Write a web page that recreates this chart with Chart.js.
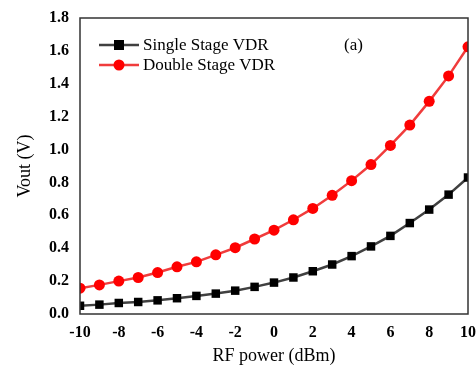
<!DOCTYPE html>
<html>
<head>
<meta charset="utf-8">
<script src="https://cdn.jsdelivr.net/npm/chart.js@4.4.0/dist/chart.umd.min.js"></script>
<style>
  html, body { margin: 0; padding: 0; background: #fff; overflow: hidden; }
  #wrap { width: 476px; height: 369px; }
</style>
</head>
<body>
<div id="wrap"><canvas id="grafico" width="476" height="369"></canvas></div>
<script>
// RF power sweep (dBm) and output voltage of each rectifier (V)
const potencia = [-10, -9, -8, -7, -6, -5, -4, -3, -2, -1, 0, 1, 2, 3, 4, 5, 6, 7, 8, 9, 10];
const simple = [0.050, 0.057, 0.067, 0.073, 0.083, 0.096, 0.110, 0.124, 0.142, 0.165, 0.191,
                0.222, 0.260, 0.301, 0.352, 0.411, 0.475, 0.553, 0.635, 0.726, 0.830];
const doble = [0.157, 0.177, 0.200, 0.222, 0.252, 0.287, 0.317, 0.360, 0.403, 0.456, 0.510,
               0.573, 0.642, 0.722, 0.811, 0.909, 1.025, 1.149, 1.293, 1.448, 1.625];
const etiquetas = ['Single Stage VDR', 'Double Stage VDR'];
const ticksY = [0, 0.2, 0.4, 0.6, 0.8, 1.0, 1.2, 1.4, 1.6, 1.8];

const serif = '"Liberation Serif", "Times New Roman", serif';

const puntos = (valores) => potencia.map((p, i) => ({ x: p, y: valores[i] }));

// caja alrededor del area, leyenda interior y la etiqueta (a)
const extras = {
  id: 'extras',
  afterDraw(chart) {
    const { ctx, chartArea: a } = chart;
    ctx.save();
    ctx.strokeStyle = '#333';
    ctx.lineWidth = 1.5;
    ctx.strokeRect(a.left, a.top, a.right - a.left, a.bottom - a.top);

    ctx.font = '17px ' + serif;
    ctx.textBaseline = 'middle';
    chart.data.datasets.forEach((ds, i) => {
      const y = a.top + 27 + i * 20;
      const x0 = a.left + 19;
      ctx.strokeStyle = ds.borderColor;
      ctx.lineWidth = 2.5;
      ctx.beginPath();
      ctx.moveTo(x0, y);
      ctx.lineTo(x0 + 40, y);
      ctx.stroke();
      ctx.fillStyle = ds.pointBackgroundColor;
      if (ds.pointStyle === 'rect') {
        ctx.fillRect(x0 + 15, y - 5, 10, 10);
      } else {
        ctx.beginPath();
        ctx.arc(x0 + 20, y, 5.5, 0, Math.PI * 2);
        ctx.fill();
      }
      ctx.fillStyle = '#000';
      ctx.textAlign = 'left';
      ctx.fillText(ds.label, x0 + 44, y + 1);
    });
    ctx.fillText('(a)', a.left + 264, a.top + 28);
    ctx.restore();
  }
};

new Chart(document.getElementById('grafico'), {
  type: 'line',
  data: {
    datasets: [
      {
        label: etiquetas[0],
        data: puntos(simple),
        borderColor: '#404040',
        borderWidth: 2.5,
        pointStyle: 'rect',
        pointRadius: 6,
        pointBackgroundColor: '#000',
        pointBorderColor: '#000',
        pointBorderWidth: 0
      },
      {
        label: etiquetas[1],
        data: puntos(doble),
        borderColor: '#f03c3c',
        borderWidth: 2.5,
        pointStyle: 'circle',
        pointRadius: 5.5,
        pointBackgroundColor: '#ff0000',
        pointBorderColor: '#ff0000',
        pointBorderWidth: 0
      }
    ]
  },
  options: {
    responsive: false,
    animation: false,
    layout: { padding: { top: 18, right: 8, left: 0, bottom: 0 } },
    plugins: {
      legend: { display: false },
      tooltip: { enabled: false }
    },
    scales: {
      x: {
        type: 'linear',
        min: -10,
        max: 10,
        grid: { display: false, drawTicks: false },
        border: { display: false },
        ticks: {
          stepSize: 2,
          padding: 9,
          color: '#000',
          font: { family: serif, size: 16, weight: 'bold' }
        },
        title: {
          display: true,
          text: 'RF power (dBm)',
          color: '#000',
          padding: { top: 4, bottom: 2 },
          font: { family: serif, size: 18 }
        },
        afterFit: (eje) => {
          eje.height = 55;
          eje.paddingRight = 0;
          eje.paddingLeft = 0;
        }
      },
      y: {
        min: 0,
        max: 1.8,
        grid: { display: false, drawTicks: false },
        border: { display: false },
        afterBuildTicks: (eje) => { eje.ticks = ticksY.map(v => ({ value: v })); },
        ticks: {
          padding: 11,
          color: '#000',
          font: { family: serif, size: 16, weight: 'bold' },
          callback: (v) => Number(v).toFixed(1)
        },
        title: {
          display: true,
          text: 'Vout (V)',
          color: '#000',
          padding: { top: 14, bottom: 0 },
          font: { family: serif, size: 18 }
        },
        afterFit: (eje) => {
          eje.width = 80;
          eje.paddingTop = 0;
          eje.paddingBottom = 0;
        }
      }
    }
  },
  plugins: [extras]
});
</script>
</body>
</html>
